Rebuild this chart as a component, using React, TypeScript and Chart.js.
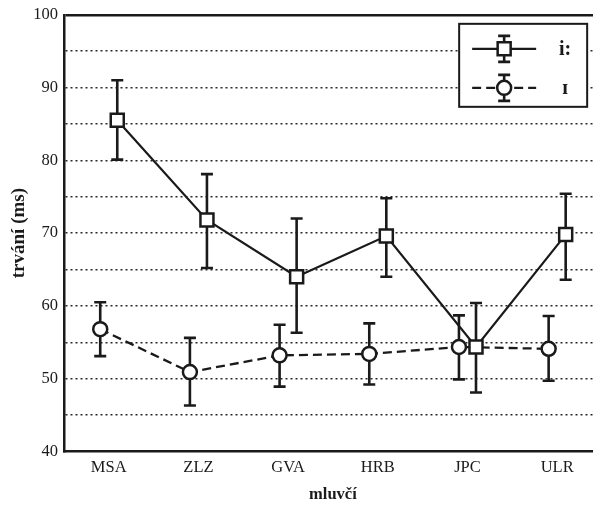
import React, { useEffect, useRef } from 'react';
import { Chart, registerables } from 'chart.js';

Chart.register(...registerables);

// ---- data ----
const categories = ['MSA', 'ZLZ', 'GVA', 'HRB', 'JPC', 'ULR'];
const yTicks = [40, 50, 60, 70, 80, 90, 100];

const longLabel = 'i:';
const longMean = [85.5, 71.8, 64.0, 69.6, 54.35, 69.8];
const longUpper = [91.0, 78.1, 72.0, 74.8, 60.4, 75.4];
const longLower = [80.1, 65.2, 56.3, 64.0, 48.1, 63.6];

const shortLabel = 'ɪ';
const shortMean = [56.8, 50.9, 53.2, 53.4, 54.35, 54.1];
const shortUpper = [60.5, 55.6, 57.4, 57.6, 58.7, 58.6];
const shortLower = [53.1, 46.3, 48.9, 49.2, 49.9, 49.7];

const seriesOffset = 0.095;
const FONT = "'Liberation Serif', 'DejaVu Serif', serif";

const errorBarPlugin = {
  id: 'errorBars',
  beforeDatasetsDraw(chart: any) {
    const { ctx, scales } = chart;
    const x = scales.x;
    const y = scales.y;
    ctx.save();
    chart.data.datasets.forEach((ds: any) => {
      if (!ds.lower || !ds.upper) return;
      ctx.strokeStyle = '#1a1a1a';
      ctx.lineWidth = 2.6;
      ctx.setLineDash([]);
      ds.data.forEach((p: any, i: number) => {
        const px = x.getPixelForValue(p.x);
        const yl = y.getPixelForValue(ds.lower[i]);
        const yu = y.getPixelForValue(ds.upper[i]);
        const cap = 6;
        ctx.beginPath();
        ctx.moveTo(px, yl);
        ctx.lineTo(px, yu);
        ctx.moveTo(px - cap, yl);
        ctx.lineTo(px + cap, yl);
        ctx.moveTo(px - cap, yu);
        ctx.lineTo(px + cap, yu);
        ctx.stroke();
      });
    });
    ctx.restore();
  },
};

const legendPlugin = {
  id: 'boxLegend',
  afterDraw(chart: any) {
    const { ctx, chartArea, scales } = chart;
    const w = 128;
    const h = 83;
    const left = scales.x.getPixelForValue(categories.length - 1) - 98;
    const top = chartArea.top + 9;
    ctx.save();
    ctx.fillStyle = '#fff';
    ctx.fillRect(left, top, w, h);
    ctx.strokeStyle = '#1a1a1a';
    ctx.lineWidth = 2;
    ctx.setLineDash([]);
    ctx.strokeRect(left, top, w, h);

    const items = chart.data.datasets;
    const rows = [top + 25, top + 64];
    items.forEach((ds: any, k: number) => {
      const cy = rows[k];
      const x1 = left + 13;
      const x2 = left + 77;
      const cx = left + 45;
      ctx.strokeStyle = '#1a1a1a';
      ctx.lineWidth = ds.borderWidth;
      ctx.setLineDash(ds.borderDash || []);
      ctx.beginPath();
      ctx.moveTo(x1, cy);
      ctx.lineTo(x2, cy);
      ctx.stroke();
      ctx.setLineDash([]);
      ctx.lineWidth = 2.6;
      ctx.beginPath();
      ctx.moveTo(cx, cy - 13);
      ctx.lineTo(cx, cy + 13);
      ctx.moveTo(cx - 6, cy - 13);
      ctx.lineTo(cx + 6, cy - 13);
      ctx.moveTo(cx - 6, cy + 13);
      ctx.lineTo(cx + 6, cy + 13);
      ctx.stroke();
      ctx.fillStyle = '#fff';
      ctx.lineWidth = 2.5;
      ctx.beginPath();
      if (ds.pointStyle === 'rect') {
        const s = ds.pointRadius * Math.SQRT1_2;
        ctx.rect(cx - s, cy - s, 2 * s, 2 * s);
      } else {
        ctx.arc(cx, cy, ds.pointRadius, 0, Math.PI * 2);
      }
      ctx.fill();
      ctx.stroke();
      ctx.fillStyle = '#1a1a1a';
      ctx.font = `bold 20px ${FONT}`;
      ctx.textAlign = 'center';
      ctx.textBaseline = 'middle';
      ctx.fillText(ds.label, left + 106, cy + 1);
    });
    ctx.restore();
  },
};

export default function App() {
  const canvasRef = useRef<HTMLCanvasElement | null>(null);

  useEffect(() => {
    if (!canvasRef.current) return;
    const chart = new Chart(canvasRef.current, {
      type: 'line',
      data: {
        datasets: [
          {
            label: longLabel,
            data: longMean.map((v, i) => ({ x: i + seriesOffset, y: v })),
            lower: longLower,
            upper: longUpper,
            borderColor: '#1a1a1a',
            borderWidth: 2.2,
            pointStyle: 'rect',
            pointRadius: 9.2,
            pointBorderWidth: 2.5,
            pointBackgroundColor: '#fff',
            pointBorderColor: '#1a1a1a',
            tension: 0,
          } as any,
          {
            label: shortLabel,
            data: shortMean.map((v, i) => ({ x: i - seriesOffset, y: v })),
            lower: shortLower,
            upper: shortUpper,
            borderColor: '#1a1a1a',
            borderWidth: 2.3,
            borderDash: [9, 5],
            pointStyle: 'circle',
            pointRadius: 7,
            pointBorderWidth: 2.5,
            pointBackgroundColor: '#fff',
            pointBorderColor: '#1a1a1a',
            tension: 0,
          } as any,
        ],
      },
      options: {
        animation: false,
        responsive: true,
        maintainAspectRatio: false,
        layout: { padding: 0, autoPadding: false },
        plugins: {
          legend: { display: false },
          tooltip: { enabled: false },
        },
        scales: {
          x: {
            type: 'linear',
            min: -0.5,
            max: 5.5,
            afterBuildTicks: (scale: any) => {
              scale.ticks = categories.map((_, i) => ({ value: i }));
            },
            grid: { display: false, drawTicks: false, tickLength: 0 },
            border: { display: true, color: '#1a1a1a', width: 2.5 },
            ticks: {
              autoSkip: false,
              maxRotation: 0,
              padding: 6,
              color: '#1a1a1a',
              font: { family: FONT, size: 16.5 },
              callback: (v: any) => categories[Math.round(Number(v))] ?? '',
            },
            title: {
              display: true,
              text: 'mluvčí',
              color: '#1a1a1a',
              font: { family: FONT, size: 16.5, weight: 'bold' },
              padding: { top: 2, bottom: 2 },
            },
          },
          y: {
            type: 'linear',
            min: 40,
            max: 100,
            afterBuildTicks: (scale: any) => {
              const t: any[] = [];
              for (let v = yTicks[0]; v <= yTicks[yTicks.length - 1]; v += 5) t.push({ value: v });
              scale.ticks = t;
            },
            grid: {
              drawTicks: false,
              tickLength: 0,
              color: (c: any) => {
                const v = c.tick && c.tick.value;
                if (v === 40) return 'rgba(0,0,0,0)';
                if (v === 100) return '#1a1a1a';
                return '#2a2a2a';
              },
              lineWidth: (c: any) => (c.tick && c.tick.value === 100 ? 2.5 : 1.5),
            },
            border: {
              display: true,
              color: '#1a1a1a',
              width: 2.5,
              dash: (c: any) => (c.tick && c.tick.value === 100 ? [] : [2, 3]),
            },
            ticks: {
              autoSkip: false,
              padding: 6,
              color: '#1a1a1a',
              font: { family: FONT, size: 16.5, lineHeight: 0.1 },
              callback: (v: any) => (yTicks.includes(Number(v)) ? String(v) : ''),
            },
            title: {
              display: true,
              text: 'trvání (ms)',
              color: '#1a1a1a',
              font: { family: FONT, size: 19, weight: 'bold', lineHeight: 0.85 },
              padding: { top: 3, bottom: 0 },
            },
          },
        },
      } as any,
      plugins: [errorBarPlugin, legendPlugin],
    });
    return () => chart.destroy();
  }, []);

  return (
    <div style={{ width: 593, height: 499, overflow: 'hidden' }}>
      <div style={{ position: 'relative', width: 594, height: 499 }}>
        <canvas ref={canvasRef} />
      </div>
    </div>
  );
}
